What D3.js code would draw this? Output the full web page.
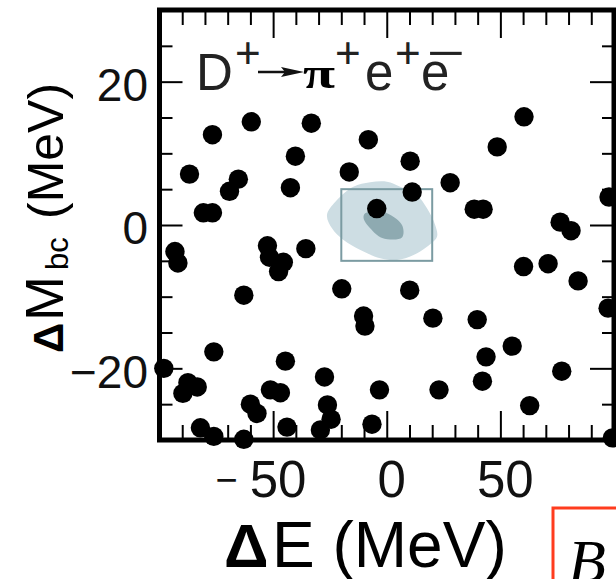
<!DOCTYPE html>
<html><head><meta charset="utf-8">
<script src="https://cdn.jsdelivr.net/npm/d3@7"></script>
<style>body{margin:0;background:#fff}svg{display:block}</style>
</head><body><svg id="c" width="616" height="579"></svg>
<script>
// ---- data (ΔE, ΔMbc in MeV) ----
const dE = [-76.7,-59.6,-33.2,-8.1,60.4,48.6,-40.2,-86.8,-65.3,-69.2,-42.4,-80.7,-76.7,-16.5,10.3,27.9,11.2,-4.4,38.5,42.4,76.3,81.1,97.8,60.2,71.0,84.2,-19.8,10.1,-62.9,-35.6,-93.2,-91.9,-52.5,-51.6,-45.5,-47.6,-76.1,-44.6,-98.1,-87.5,-83.4,-89.7,-60.0,-57.1,-51.2,-46.8,-43.9,-82.0,-76.1,-62.9,-27.4,-26.1,-24.5,-29.2,-10.2,-9.6,-6.5,-3.2,20.3,23.0,39.8,43.7,42.1,55.2,62.9,77.0,97.4,99.3];
const dM = [12.6,14.4,14.2,11.9,15.1,10.9,9.6,7.1,6.4,4.7,5.2,1.7,1.7,7.4,8.9,5.9,4.6,2.3,2.2,2.2,0.4,-0.8,3.9,-5.8,-5.4,-7.8,-8.9,-9.1,-9.8,-3.3,-3.7,-5.3,-2.9,-4.5,-5.2,-6.5,-17.7,-19.0,-20.0,-22.0,-22.6,-23.5,-25.0,-26.3,-23.0,-23.4,-28.2,-28.3,-29.5,-29.9,-21.2,-25.1,-27.1,-28.6,-12.7,-14.1,-27.8,-23.0,-13.0,-23.0,-13.2,-18.4,-21.8,-16.9,-25.2,-20.4,-11.6,-29.7];
// signal MC contours
const outerE = [-26.3,-22.6,-14.7,-7.3,0.1,5.9,13.3,17.7,21.3,22.1,17.7,11.8,4.5,-2.9,-11.6,-19.0,-24.1];
const outerM = [1.4,3.25,5.34,5.96,6.04,5.34,4.19,2.33,0.0,-1.63,-3.03,-4.19,-4.88,-4.65,-3.49,-2.09,-0.46];
const innerE = [-9.5,-1.5,6.7,6.7,-2.0,-7.3,-10.2];
const innerM = [1.63,1.81,0.0,-1.74,-1.81,-0.46,0.93];
// signal box
const boxE = [-20, 20];
const boxM = [-5, 5];
// ticks
const xDomain = [-100, 100];
const yDomain = [-30, 30];
const xMajor = [-50, 0, 50];
const xMinor = [-90,-80,-70,-60,-40,-30,-20,-10,10,20,30,40,60,70,80,90];
const yMajor = [-20, 0, 20];
const yMinor = [-25,-15,-10,-5,5,10,15,25];

const svg = d3.select("#c");
const L = 159.5, R = 614, T = 10, B = 440;
const x = d3.scaleLinear(xDomain, [L, R]);
const y = d3.scaleLinear(yDomain, [B, T]);
const sans = "'Liberation Sans', Arial, Helvetica, sans-serif";

// contours
const pts = (E, M) => E.map((e, i) => [e, M[i]]);
const line = d3.line().x(d => x(d[0])).y(d => y(d[1])).curve(d3.curveCatmullRomClosed);
svg.append("path").attr("d", line(pts(outerE, outerM))).attr("fill", "#cddde3");
svg.append("path").attr("d", line(pts(innerE, innerM))).attr("fill", "#8eaab1");
svg.append("rect")
  .attr("x", x(boxE[0])).attr("y", y(boxM[1]))
  .attr("width", x(boxE[1]) - x(boxE[0])).attr("height", y(boxM[0]) - y(boxM[1]))
  .attr("fill", "none").attr("stroke", "#7b9ba2").attr("stroke-width", 2);

// ticks (inward on all sides)
function ax(gen, tr, vals, size) {
  const g = svg.append("g").attr("transform", tr)
    .call(gen.tickValues(vals).tickSize(-size).tickFormat(""));
  g.select(".domain").remove();
  g.selectAll(".tick line").attr("stroke", "#000").attr("stroke-width", 2);
}
ax(d3.axisBottom(x), `translate(0,${B})`, xMinor, 15);
ax(d3.axisBottom(x), `translate(0,${B})`, xMajor, 29);
ax(d3.axisTop(x), `translate(0,${T})`, xMinor, 15);
ax(d3.axisTop(x), `translate(0,${T})`, xMajor, 28);
ax(d3.axisLeft(y), `translate(${L},0)`, yMinor, 13);
ax(d3.axisLeft(y), `translate(${L},0)`, yMajor, 23);
ax(d3.axisRight(y), `translate(${R},0)`, yMinor, 12);
ax(d3.axisRight(y), `translate(${R},0)`, yMajor, 24);

// frame
svg.append("rect").attr("x", L).attr("y", T).attr("width", R - L).attr("height", B - T)
  .attr("fill", "none").attr("stroke", "#000").attr("stroke-width", 5);

// dots
svg.append("g").selectAll("circle").data(pts(dE, dM)).join("circle")
  .attr("cx", d => x(d[0])).attr("cy", d => y(d[1])).attr("r", 9.7).attr("fill", "#000");

// y tick labels
svg.append("g").selectAll("text").data(yMajor).join("text")
  .attr("x", 148).attr("y", d => y(d)).attr("dy", "0.42em")
  .attr("text-anchor", "end").attr("font-family", sans).attr("font-size", 46).attr("fill", "#111")
  .text(d => d < 0 ? "\u2212" + Math.abs(d) : d);

// x tick labels
const xl = svg.append("g");
xMajor.forEach(v => {
  const t = xl.append("text").attr("x", x(v) + 5).attr("y", 497)
    .attr("text-anchor", "middle").attr("font-family", sans).attr("font-size", 51).attr("fill", "#111")
    .text(Math.abs(v));
  if (v < 0) {
    const w = t.node().getComputedTextLength();
    xl.append("text").attr("x", x(v) + 5 - w / 2 - 12).attr("y", 493)
      .attr("text-anchor", "end").attr("font-family", sans).attr("font-size", 38).attr("fill", "#111")
      .text("\u2212");
  }
});

// axis titles
svg.append("text").attr("x", 224).attr("y", 567).attr("font-family", sans).attr("font-weight", "bold")
  .attr("font-size", 62).attr("fill", "#000").text("\u0394");
svg.append("text").attr("x", 272).attr("y", 567).attr("font-family", sans)
  .attr("font-size", 64).attr("fill", "#000").text("E (MeV)");

const yt = svg.append("g").attr("transform", "translate(63,353) rotate(-90)");
yt.append("text").attr("x", 0).attr("y", 0).attr("font-family", sans).attr("font-weight", "bold")
  .attr("font-size", 42).attr("fill", "#000").text("\u0394");
yt.append("text").attr("x", 32).attr("y", 0).attr("font-family", sans)
  .attr("font-size", 54).attr("fill", "#000").text("M");
yt.append("text").attr("x", 83).attr("y", 5).attr("font-family", sans)
  .attr("font-size", 31).attr("fill", "#000").text("bc");
yt.append("text").attr("x", 134).attr("y", 0).attr("font-family", sans)
  .attr("font-size", 50).attr("fill", "#000").text("(MeV)");

// decay label D+ -> pi+ e+ e-
const lab = svg.append("g").attr("fill", "#222").attr("font-family", sans);
lab.append("text").attr("x", 196).attr("y", 90).attr("font-size", 51).text("D");
lab.append("text").attr("x", 235).attr("y", 68).attr("font-size", 44).text("+");
lab.append("line").attr("x1", 258).attr("x2", 292).attr("y1", 72).attr("y2", 72)
  .attr("stroke", "#111").attr("stroke-width", 2.5);
lab.append("path").attr("d", "M281,67 L304,72 L281,77 L285,72 Z").attr("fill", "#111");
lab.append("text").attr("x", 303).attr("y", 88).attr("font-family", "'Liberation Serif', serif")
  .attr("font-weight", "bold").attr("font-size", 44).attr("textLength", 32)
  .attr("lengthAdjust", "spacingAndGlyphs").attr("fill", "#000").text("\u03C0");
lab.append("text").attr("x", 335).attr("y", 68).attr("font-size", 44).text("+");
lab.append("text").attr("x", 365).attr("y", 90).attr("font-size", 51).text("e");
lab.append("text").attr("x", 395).attr("y", 68).attr("font-size", 44).text("+");
lab.append("text").attr("x", 421).attr("y", 90).attr("font-size", 51).text("e");
lab.append("text").attr("x", 427).attr("y", 68).attr("font-size", 44).attr("textLength", 38)
  .attr("lengthAdjust", "spacingAndGlyphs").text("\u2212");

// neighbouring panel fragment
svg.append("rect").attr("x", 553).attr("y", 508).attr("width", 120).attr("height", 120)
  .attr("fill", "none").attr("stroke", "#ff3c1e").attr("stroke-width", 3);
svg.append("text").attr("x", 568).attr("y", 582).attr("font-family", "'Liberation Serif', serif")
  .attr("font-style", "italic").attr("font-size", 62).attr("fill", "#000").text("B");
</script>
</body></html>
